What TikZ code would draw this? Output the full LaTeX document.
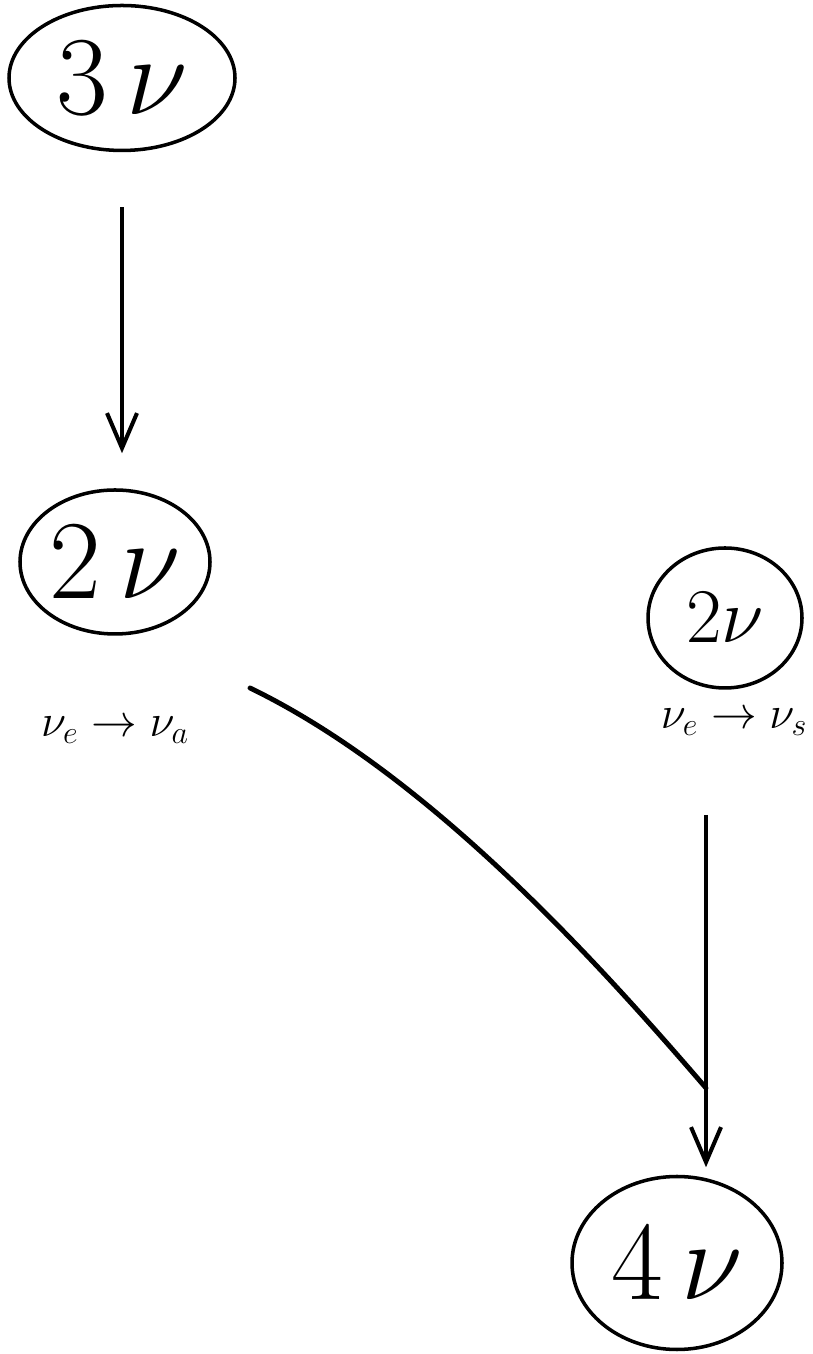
\RequirePackage{fix-cm}
\documentclass[tikz,border=0pt]{standalone}
\usetikzlibrary{arrows.meta,shapes.geometric}

\tikzset{
  bolla/.style={draw, ellipse, line width=2pt, inner sep=0pt},
  grande/.style={font=\fontsize{64}{70}\selectfont},
  piccolo/.style={font=\fontsize{44}{50}\selectfont},
  etichetta/.style={font=\fontsize{26}{31}\selectfont},
  freccia/.style={line width=2.3pt, -{Straight Barb[length=7mm,width=6mm,line width=2.3pt]}},
  linea/.style={line width=2.8pt, line cap=round},
}

\begin{document}
\begin{tikzpicture}
\useasboundingbox (0,0) rectangle (16.24,27.08);

% Nodi
\node[bolla, grande, minimum width=4.52cm, minimum height=2.9cm] (n3) at (2.44,25.52) {$3\,\nu$};
\node[bolla, grande, minimum width=3.8cm, minimum height=2.88cm] (n2a) at (2.30,15.84) {$2\,\nu$};
\node[bolla, piccolo, minimum width=3.08cm, minimum height=2.8cm] (n2s) at (14.50,14.72) {$2\nu$};
\node[bolla, grande, minimum width=4.2cm, minimum height=3.46cm] (n4) at (13.54,1.82) {$4\,\nu$};

% Etichette
\node[etichetta] (lblA) at (2.30,12.48) {$\nu_e \to \nu_a$};
\node[etichetta] (lblS) at (14.68,12.64) {$\nu_e \to \nu_s$};

% Punti liberi
\coordinate (partenza) at (5.00,13.32);
\coordinate (inizio) at (14.12,10.78);
\coordinate (innesto) at (14.12,5.32);

% Frecce
\draw[freccia, shorten <=1.1cm, shorten >=0.7cm] (n3.south) -- (n3.south |- n2a.north);
\draw[freccia, shorten >=0.15cm] (inizio) -- (inizio |- n4.north);
\draw[linea] (partenza) .. controls (8.60,11.58) and (12.00,7.78) .. (innesto);

\end{tikzpicture}
\end{document}
